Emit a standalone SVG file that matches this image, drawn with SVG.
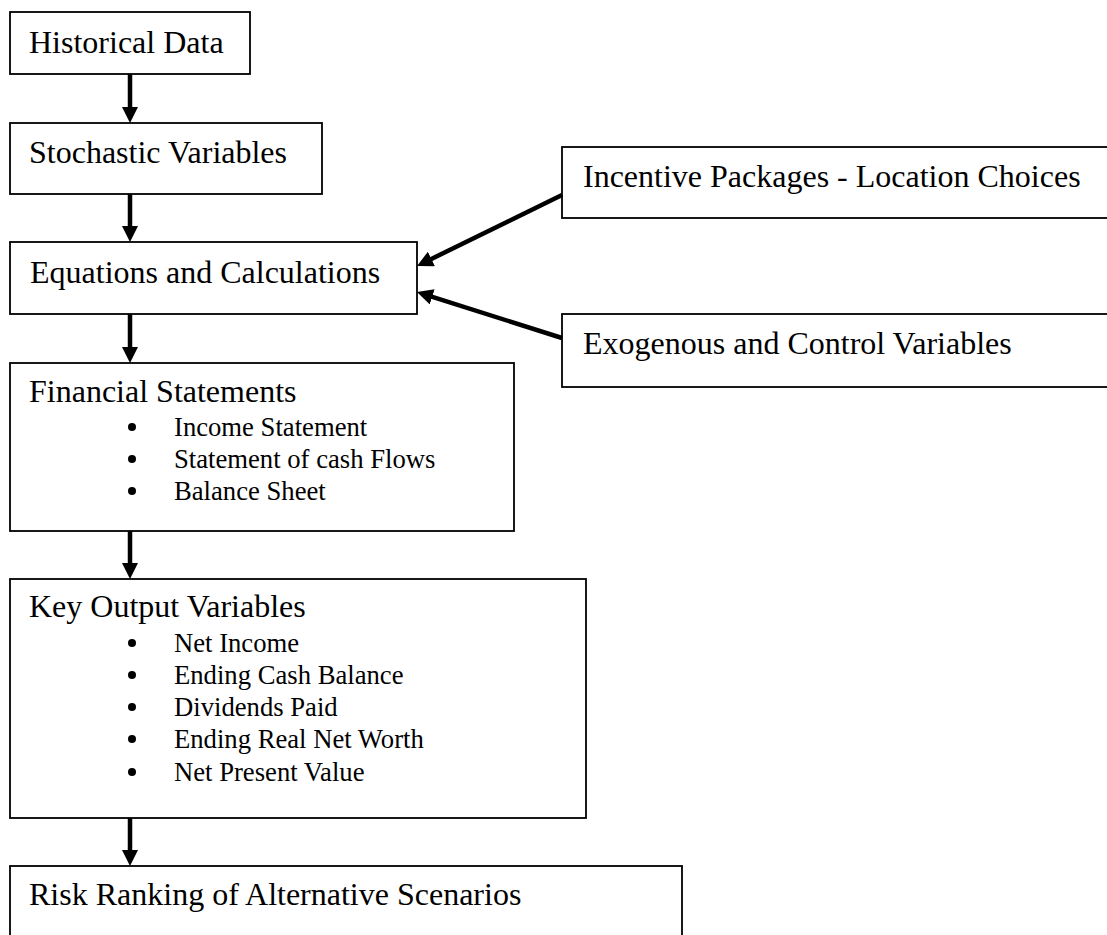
<svg xmlns="http://www.w3.org/2000/svg" width="1107" height="935" viewBox="0 0 1107 935">
<style>
.box{fill:#fff;stroke:#000;stroke-width:1.8}
.h{font-family:"Liberation Serif","Times New Roman",serif;font-size:32px;fill:#000}
.i{font-family:"Liberation Serif","Times New Roman",serif;font-size:26.67px;fill:#000}
.dot{fill:#000}
.arr{stroke:#000;stroke-width:4.5;fill:none;marker-end:url(#ah)}
</style>
<defs>
<marker id="ah" markerUnits="userSpaceOnUse" markerWidth="16" markerHeight="16" refX="4" refY="8" orient="auto">
<path d="M0,0 L16,8 L0,16 z" fill="#000"/>
</marker>
</defs>
<rect width="1107" height="935" fill="#fff"/>
<g id="historical">
<rect class="box" x="10" y="12" width="240" height="62"/>
<text class="h" x="29" y="53">Historical Data</text>
</g>
<g id="stochastic">
<rect class="box" x="10" y="123" width="312" height="71"/>
<text class="h" x="29" y="163">Stochastic Variables</text>
</g>
<g id="equations">
<rect class="box" x="10" y="242" width="407" height="72"/>
<text class="h" x="30" y="283">Equations and Calculations</text>
</g>
<g id="incentive">
<rect class="box" x="562" y="147" width="560" height="71"/>
<text class="h" x="583" y="187">Incentive Packages - Location Choices</text>
</g>
<g id="exogenous">
<rect class="box" x="562" y="314" width="560" height="73"/>
<text class="h" x="583" y="354">Exogenous and Control Variables</text>
</g>
<g id="financial">
<rect class="box" x="10" y="363" width="504" height="168"/>
<text class="h" x="29" y="402">Financial Statements</text>
<circle class="dot" cx="132" cy="427" r="4"/>
<text class="i" x="174" y="436">Income Statement</text>
<circle class="dot" cx="132" cy="459" r="4"/>
<text class="i" x="174" y="468">Statement of cash Flows</text>
<circle class="dot" cx="132" cy="491" r="4"/>
<text class="i" x="174" y="500">Balance Sheet</text>
</g>
<g id="keyoutput">
<rect class="box" x="10" y="579" width="576" height="239"/>
<text class="h" x="29" y="617">Key Output Variables</text>
<circle class="dot" cx="132" cy="643" r="4"/>
<text class="i" x="174" y="652">Net Income</text>
<circle class="dot" cx="132" cy="675" r="4"/>
<text class="i" x="174" y="684">Ending Cash Balance</text>
<circle class="dot" cx="132" cy="707" r="4"/>
<text class="i" x="174" y="716">Dividends Paid</text>
<circle class="dot" cx="132" cy="739" r="4"/>
<text class="i" x="174" y="748">Ending Real Net Worth</text>
<circle class="dot" cx="132" cy="772" r="4"/>
<text class="i" x="174" y="781">Net Present Value</text>
</g>
<g id="risk">
<rect class="box" x="10" y="866" width="672" height="90"/>
<text class="h" x="29" y="905">Risk Ranking of Alternative Scenarios</text>
</g>
<g id="connectors">
<line class="arr" x1="130" y1="74" x2="130" y2="111"/>
<line class="arr" x1="130" y1="194" x2="130" y2="230"/>
<line class="arr" x1="130" y1="314" x2="130" y2="351"/>
<line class="arr" x1="130" y1="531" x2="130" y2="567"/>
<line class="arr" x1="130" y1="818" x2="130" y2="854"/>
<line class="arr" x1="562" y1="195" x2="427.8" y2="260.7"/>
<line class="arr" x1="562" y1="338" x2="428.4" y2="295.6"/>
</g>
</svg>
